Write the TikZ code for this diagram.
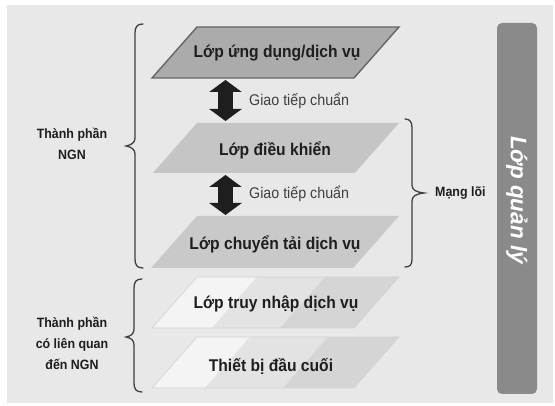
\documentclass[tikz,border=0pt]{standalone}
\usepackage{fontspec}
\setmainfont{Liberation Sans}
\newfontfamily\condfont[FakeStretch=0.92]{Liberation Sans}
\usetikzlibrary{arrows.meta}

\definecolor{pagebg}{HTML}{E8E8E8}
\definecolor{layerdark}{HTML}{ABABAB}
\definecolor{layerline}{HTML}{666666}
\definecolor{layermid}{HTML}{C5C5C5}
\definecolor{layermidb}{HTML}{C9C9C9}
\definecolor{lightA}{HTML}{F4F4F4}
\definecolor{lightB}{HTML}{E3E3E3}
\definecolor{lightC}{HTML}{D5D5D5}
\definecolor{lightedge}{HTML}{D2D2D2}
\definecolor{barfill}{HTML}{8A8A8A}
\definecolor{inkdark}{HTML}{1E1E1E}

% one layer slab: top edge from x=197 to 399, leaning 45 units over 51
\newcommand{\slab}[3]{%
  \fill[#3] (197,#1) -- (399,#1) -- ({399-45*(#2-#1)/51},#2) -- ({197-45*(#2-#1)/51},#2) -- cycle;}
% light slab split in three shades
\newcommand{\lightslab}[4]{%
  \pgfmathsetmacro{\dx}{45*(#2-#1)/51}
  \fill[lightA] (197,#1) -- (#3,#1) -- ({#3-\dx},#2) -- ({197-\dx},#2) -- cycle;
  \fill[lightB] (#3,#1) -- (#4,#1) -- ({#4-\dx},#2) -- ({#3-\dx},#2) -- cycle;
  \fill[lightC] (#4,#1) -- (399,#1) -- ({399-\dx},#2) -- ({#4-\dx},#2) -- cycle;
  \draw[lightedge, line width=0.6pt] (197,#1) -- (399,#1) -- ({399-\dx},#2) -- ({197-\dx},#2) -- cycle;}

\tikzset{
  layertext/.style={font=\condfont\bfseries\fontsize{17}{19}\selectfont, text=inkdark, inner sep=0pt},
  sidetext/.style={font=\condfont\bfseries\fontsize{13.5}{21}\selectfont, text=inkdark, align=center, inner sep=0pt},
  ifacetext/.style={font=\condfont\fontsize{15.5}{18}\selectfont, text=inkdark!85, inner sep=0pt, anchor=west},
  bigarrow/.style={line width=15pt, draw=inkdark,
    {Triangle[width=32pt,length=12pt]}-{Triangle[width=32pt,length=12pt]}},
  bracket/.style={draw=inkdark!85, line width=1.3pt, line cap=round},
}

\begin{document}
\begin{tikzpicture}[x=1pt,y=-1pt]
  % canvas
  \fill[white] (0,0) rectangle (555,406);
  \fill[pagebg] (7,5) rectangle (553,403);
  \useasboundingbox (0,0) rectangle (555,406);

  % layers
  \slab{27}{78}{layerdark}
  \draw[layerline, line width=1.4pt] (197,27) -- (399,27) -- (354,78) -- (152,78) -- cycle;
  \slab{123}{173}{layermid}
  \slab{216}{268}{layermidb}
  \lightslab{277}{328}{257}{325}
  \lightslab{337}{388}{250}{328}

  \node[layertext] (app)   at (277,53)  {Lớp ứng dụng/dịch vụ};
  \node[layertext] (ctrl)  at (275,150) {Lớp điều khiển};
  \node[layertext] (trans) at (275,244) {Lớp chuyển tải dịch vụ};
  \node[layertext] (acc)   at (276,304) {Lớp truy nhập dịch vụ};
  \node[layertext] (term)  at (271,366) {Thiết bị đầu cuối};

  % interfaces between layers
  \coordinate (i1top) at (225.5,80);
  \coordinate (i1bot) at (225.5,121);
  \coordinate (i2top) at (225.5,175);
  \coordinate (i2bot) at (225.5,215);
  \draw[bigarrow] (i1top) -- (i1bot);
  \draw[bigarrow] (i2top) -- (i2bot);
  \node[ifacetext] (if1) at (249,101) {Giao tiếp chuẩn};
  \node[ifacetext] (if2) at (249,194) {Giao tiếp chuẩn};

  % left brace: NGN components
  \draw[bracket] (143,24) .. controls (137,24) and (135,27) .. (135,33)
    -- (135,138) .. controls (135,143) and (131,145) .. (126,146)
    .. controls (131,147) and (135,149) .. (135,154)
    -- (135,259) .. controls (135,265) and (137,268) .. (143,268);
  \node[sidetext] (ngn) at (72,144) {Thành phần\\NGN};

  % left brace: NGN related components
  \draw[bracket] (142,279) .. controls (136,279) and (134,282) .. (134,288)
    -- (134,329) .. controls (134,334) and (131,336) .. (126,337)
    .. controls (131,338) and (134,340) .. (134,345)
    -- (134,383) .. controls (134,389) and (136,392) .. (142,392);
  \node[sidetext] (rel) at (72,343) {Thành phần\\có liên quan\\đến NGN};

  % right brace: core network
  \draw[bracket] (405,119) .. controls (410,119) and (412,122) .. (412,128)
    -- (412,185) .. controls (412,190) and (416,192) .. (424,193)
    .. controls (416,194) and (412,196) .. (412,201)
    -- (412,259) .. controls (412,265) and (410,267) .. (405,267);
  \node[sidetext, anchor=west] (core) at (435,193) {Mạng lõi};

  % management bar
  \fill[barfill] (497,23) [rounded corners=5pt] rectangle (537,394);
  \node[rotate=-90, text=white, inner sep=0pt,
        font=\bfseries\itshape\fontsize{22.5}{24}\selectfont] (mgmt) at (517,200) {Lớp quản lý};
\end{tikzpicture}
\end{document}
